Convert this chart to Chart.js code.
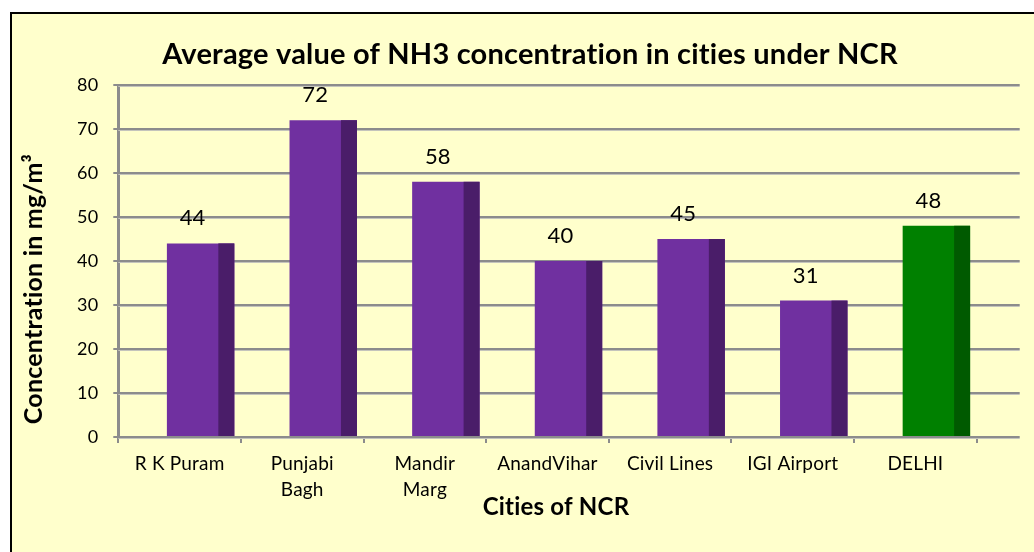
<!DOCTYPE html>
<html>
<head>
<meta charset="utf-8">
<script src="https://cdn.jsdelivr.net/npm/chart.js@4"></script>
<style>
  body { margin: 0; background: #fff; overflow: hidden; }
  #frame {
    position: absolute; left: 10px; top: 12px;
    width: 1022px; height: 538px;
    border-left: 2px solid #000; border-top: 2px solid #000;
    background: #ffffcc;
  }
  #box { position: relative; width: 1022px; height: 538px; }
</style>
</head>
<body>
<div id="frame"><div id="box"><canvas id="nh3"></canvas></div></div>
<script>
"use strict";

// values
const cities = ["R K Puram", ["Punjabi", "Bagh"], ["Mandir", "Marg"], "AnandVihar", "Civil Lines", "IGI Airport", "DELHI"];
const nh3 = [44, 72, 58, 40, 45, 31, 48];
const yTicks = [0, 10, 20, 30, 40, 50, 60, 70, 80];

const front = ["#7030a0", "#7030a0", "#7030a0", "#7030a0", "#7030a0", "#7030a0", "#008000"];
const side = ["#4a1d69", "#4a1d69", "#4a1d69", "#4a1d69", "#4a1d69", "#4a1d69", "#005a00"];

const SHIFT = 21;   // 3d bars sit right of the category centre
const DEPTH = 16;   // width of the dark side face
const WALL = 43;    // back wall sticks out past the last category

const FONT = "Lato, 'Open Sans', sans-serif";

// lato turns "ti" into a ligature, a hair of letter spacing switches that off
const textPlugin = {
  id: "textfix",
  beforeDraw(chart) {
    chart.ctx.letterSpacing = "0.2px";
  },
  afterDraw(chart) {
    const { ctx, chartArea } = chart;
    ctx.save();
    ctx.fillStyle = "#000";
    ctx.textAlign = "center";
    ctx.textBaseline = "middle";
    ctx.font = "bold 24px " + FONT;
    ctx.fillText("Cities of NCR", (chartArea.left + chartArea.right) / 2 + 8.5, chartArea.bottom + 70);
    ctx.translate(22, (chartArea.top + chartArea.bottom) / 2 + 28);
    ctx.rotate(-Math.PI / 2);
    ctx.font = "bold 25px " + FONT;
    ctx.fillText("Concentration in mg/m³", 0, 0);
    ctx.restore();
  },
};

// gridlines on the back wall, running past the plot area like excel does
const wallPlugin = {
  id: "wall",
  beforeDatasetsDraw(chart) {
    const { ctx, chartArea, scales } = chart;
    const y = scales.y;
    const x = scales.x;
    const step = x.getPixelForValue(1) - x.getPixelForValue(0);
    const end = x.getPixelForValue(cities.length - 1) + step / 2 + WALL;
    ctx.save();
    yTicks.forEach((v) => {
      const py = Math.round(y.getPixelForValue(v));
      ctx.fillStyle = "#c4c4bc";
      ctx.fillRect(chartArea.left, py + 1, end - chartArea.left, 1);
      ctx.fillStyle = "#8c8c8c";
      ctx.fillRect(chartArea.left, py - 1, end - chartArea.left, 2);
    });
    ctx.restore();
  },
};

const barPlugin = {
  id: "bars3d",
  beforeDatasetDraw(chart) {
    chart.ctx.save();
    chart.ctx.translate(SHIFT, 0);
  },
  afterDatasetDraw(chart, args) {
    const ctx = chart.ctx;
    args.meta.data.forEach((bar, i) => {
      const { x, y, base, width } = bar.getProps(["x", "y", "base", "width"], true);
      ctx.fillStyle = side[i];
      ctx.fillRect(x + width / 2 - DEPTH, y, DEPTH, base - y);
    });
    ctx.restore();
  },
  afterDatasetsDraw(chart) {
    const ctx = chart.ctx;
    const meta = chart.getDatasetMeta(0);
    ctx.save();
    ctx.font = "22px " + FONT;
    ctx.fillStyle = "#000";
    ctx.textAlign = "center";
    ctx.textBaseline = "alphabetic";
    meta.data.forEach((bar, i) => {
      const { x, y } = bar.getProps(["x", "y"], true);
      ctx.fillText(String(nh3[i]), x + SHIFT - DEPTH / 2, y - 18);
    });
    ctx.restore();
  },
};

async function initChart() {
  await document.fonts.load("bold 25px Lato");
  await document.fonts.load("18px Lato");

  const ctx = document.getElementById("nh3").getContext("2d");
  return new Chart(ctx, {
    type: "bar",
    data: {
      labels: cities,
      datasets: [
        {
          data: nh3,
          backgroundColor: front,
          borderWidth: 0,
          categoryPercentage: 1,
          barPercentage: 0.55,
        },
      ],
    },
    options: {
      responsive: true,
      maintainAspectRatio: false,
      animation: false,
      layout: { padding: { left: 14, right: 0, top: 0, bottom: 34.4 } },
      plugins: {
        legend: { display: false },
        tooltip: { enabled: false },
        title: {
          display: true,
          text: "Average value of NH3 concentration in cities under NCR",
          color: "#000",
          font: { family: FONT, size: 29, weight: "bold", lineHeight: 1.2 },
          padding: { top: 22.8, bottom: 13.4 },
        },
      },
      scales: {
        x: {
          afterFit(scale) { scale.height = 80.6; },
          grid: {
            offset: true,
            drawOnChartArea: false,
            drawTicks: true,
            tickLength: 6,
            color: "#8c8c8c",
            lineWidth: 2,
          },
          border: { display: false },
          ticks: {
            color: "#000",
            padding: 8,
            maxRotation: 0,
            autoSkip: false,
            font: { family: FONT, size: 19, lineHeight: 1.37 },
          },
        },
        y: {
          min: 0,
          max: 80,
          afterFit(scale) { scale.width = 92.3; },
          grid: {
            drawOnChartArea: false,
            drawTicks: true,
            tickLength: 5,
            color: "#8c8c8c",
            lineWidth: 2,
          },
          border: { display: true, color: "#8c8c8c", width: 3 },
          ticks: {
            stepSize: 10,
            color: "#000",
            padding: 15,
            font: { family: FONT, size: 18 },
          },
        },
        // empty box on the right, keeps the back wall room and the title centred
        side: {
          position: "right",
          afterFit(scale) { scale.width = 57.3; },
          grid: { display: false },
          border: { display: false },
          ticks: { display: false },
        },
      },
    },
    plugins: [textPlugin, wallPlugin, barPlugin],
  });
}

initChart();
</script>
</body>
</html>
